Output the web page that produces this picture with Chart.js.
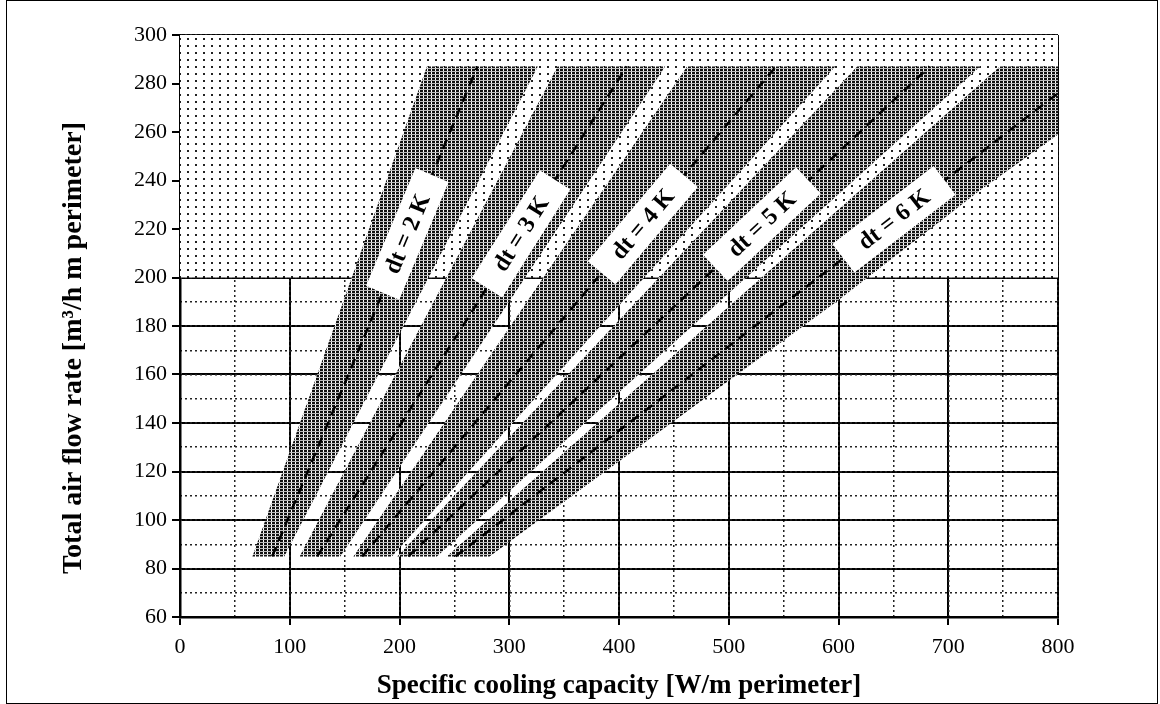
<!DOCTYPE html>
<html>
<head>
<meta charset="utf-8">
<script src="https://cdn.jsdelivr.net/npm/chart.js@4.4.1/dist/chart.umd.min.js"></script>
<style>
  body { margin:0; background:#fff; }
  #wrap { position:relative; width:1160px; height:704px; }
</style>
</head>
<body>
<div id="wrap"><canvas id="chart" width="1160" height="704"></canvas></div>
<script>
// axis ticks
const xTicks = [0, 100, 200, 300, 400, 500, 600, 700, 800];
const yTicks = [60, 80, 100, 120, 140, 160, 180, 200, 220, 240, 260, 280, 300];
const xTitle = 'Specific cooling capacity [W/m perimeter]';
const yTitle = 'Total air flow rate [m³/h m perimeter]';

// temperature difference lines (cooling capacity Q vs air flow V)
const dtNames = ['dt = 2 K', 'dt = 3 K', 'dt = 4 K', 'dt = 5 K', 'dt = 6 K'];
const lineVStart = 85;
const lineQStart = [84, 125, 166, 208, 251];
const lineQEnd = [271, 407, 543, 683, 800];
const lineVEnd = [287, 287, 287, 287, 276];
const labelV = [218, 218, 222, 222, 224];

// shaded bands around each line (bottom at V=85, top at V=287)
const bandVLow = 85;
const bandVHigh = 287;
const bandLowFrom = [66, 109, 158, 198, 243];
const bandLowTo = [95, 146, 193, 234, 282];
const bandHighFrom = [225, 344, 462, 617, 747];
const bandHighTo = [326, 442, 597, 729, 800];
// lower right boundary of the dt = 6 K band
const edgeQ = [598, 729, 800];
const edgeV = [190, 236, 259];

// stippled upper zone
const zoneVLow = 200;
const zoneVHigh = 300;

const FONT = '"Liberation Serif", "Times New Roman", serif';

function makePattern(w, h, draw){
  const c = document.createElement('canvas');
  c.width = w; c.height = h;
  const g = c.getContext('2d');
  g.fillStyle = '#fff'; g.fillRect(0, 0, w, h);
  draw(g);
  return document.getElementById('chart').getContext('2d').createPattern(c, 'repeat');
}
const bandFill = makePattern(4, 3, g => {
  g.fillStyle = '#111'; g.fillRect(0, 0, 3, 2);
  g.fillStyle = '#bbb'; g.fillRect(0, 2, 4, 1);
});
const dotFill = makePattern(8, 7, g => { g.fillStyle = '#222'; g.fillRect(3, 3, 2, 2); });

const datasets = [];

datasets.push({
  data: [
    {x: xTicks[0], y: zoneVLow}, {x: xTicks[xTicks.length-1], y: zoneVLow},
    {x: xTicks[xTicks.length-1], y: zoneVHigh}, {x: xTicks[0], y: zoneVHigh}
  ],
  fill: 'shape', backgroundColor: dotFill, borderWidth: 0, pointRadius: 0, order: 30
});

bandLowFrom.forEach((q, i) => {
  let pts;
  if (i < bandLowFrom.length - 1) {
    pts = [
      {x: q, y: bandVLow}, {x: bandLowTo[i], y: bandVLow},
      {x: bandHighTo[i], y: bandVHigh}, {x: bandHighFrom[i], y: bandVHigh}
    ];
  } else {
    pts = [{x: q, y: bandVLow}, {x: bandLowTo[i], y: bandVLow}];
    edgeQ.forEach((eq, k) => pts.push({x: eq, y: edgeV[k]}));
    pts.push({x: bandHighTo[i], y: bandVHigh}, {x: bandHighFrom[i], y: bandVHigh});
  }
  datasets.push({
    data: pts, fill: 'shape', backgroundColor: bandFill,
    borderWidth: 0, pointRadius: 0, order: 20
  });
});

lineQStart.forEach((q, i) => {
  datasets.push({
    data: [{x: q, y: lineVStart}, {x: lineQEnd[i], y: lineVEnd[i]}],
    borderColor: '#000', borderWidth: 2.5, borderDash: [10, 7],
    fill: false, pointRadius: 0, order: 10
  });
});

const labelPlugin = {
  id: 'dtLabels',
  afterDraw(chart){
    const {ctx} = chart;
    const xs = chart.scales.x, ys = chart.scales.y;
    ctx.save();
    dtNames.forEach((txt, i) => {
      const ax = xs.getPixelForValue(lineQStart[i]), ay = ys.getPixelForValue(lineVStart);
      const bx = xs.getPixelForValue(lineQEnd[i]), by = ys.getPixelForValue(lineVEnd[i]);
      const py = ys.getPixelForValue(labelV[i]);
      const px = ax + (bx - ax) * (py - ay) / (by - ay);
      const ang = Math.atan2(by - ay, bx - ax);
      ctx.translate(px, py);
      ctx.rotate(ang);
      ctx.font = 'bold 24px ' + FONT;
      const w = ctx.measureText(txt).width + 44;
      ctx.fillStyle = '#fff';
      ctx.fillRect(-w/2, -18, w, 36);
      ctx.fillStyle = '#000';
      ctx.textAlign = 'center';
      ctx.textBaseline = 'middle';
      ctx.fillText(txt, 0, 1);
      ctx.setTransform(1, 0, 0, 1, 0, 0);
    });
    // y axis title, set a bit lower than the plot centre as in the original
    ctx.translate(74, 348);
    ctx.rotate(-Math.PI / 2);
    ctx.font = 'bold 28px ' + FONT;
    ctx.fillStyle = '#000';
    ctx.textAlign = 'center';
    ctx.textBaseline = 'middle';
    ctx.fillText(yTitle, 0, 0);
    ctx.setTransform(1, 0, 0, 1, 0, 0);
    // outer frame
    ctx.strokeStyle = '#000';
    ctx.lineWidth = 1;
    ctx.strokeRect(6.5, 0.5, 1151, 703);
    ctx.restore();
  }
};

new Chart(document.getElementById('chart'), {
  type: 'line',
  data: { datasets },
  options: {
    responsive: false,
    animation: false,
    devicePixelRatio: 1,
    layout: { padding: { left: 0, top: 35, right: 102, bottom: 0 } },
    elements: { line: { tension: 0 } },
    plugins: { legend: { display: false }, tooltip: { enabled: false } },
    scales: {
      x: {
        type: 'linear', min: 0, max: 800, z: 1,
        afterBuildTicks: s => { s.ticks = xTicks.map(v => ({value: v})); },
        afterFit: s => { s.height = 87; },
        ticks: { color: '#000', font: { family: FONT, size: 22 }, padding: 9, maxRotation: 0 },
        grid: { color: '#000', lineWidth: 2, tickLength: 8, tickColor: '#000', tickWidth: 2 },
        border: { display: true, color: '#000', width: 2.5 },
        title: { display: true, text: xTitle, color: '#000',
                 font: { family: FONT, size: 27, weight: 'bold' }, padding: { top: 0, bottom: 2 } }
      },
      x2: {
        type: 'linear', min: 0, max: 800, position: 'bottom', z: 1,
        afterFit: s => { s.height = 0; },
        ticks: { display: false, stepSize: 50 },
        grid: { color: '#222', lineWidth: 1.5, drawTicks: false },
        border: { display: false, dash: [2, 3] }
      },
      y: {
        type: 'linear', min: 60, max: 300, z: 1,
        afterBuildTicks: s => { s.ticks = yTicks.map(v => ({value: v})); },
        afterFit: s => { s.width = 180; },
        ticks: { color: '#000', font: { family: FONT, size: 22 }, padding: 5 },
        grid: { color: '#000', lineWidth: 2, tickLength: 8, tickColor: '#000', tickWidth: 2 },
        border: { display: true, color: '#000', width: 2.5 },
        title: { display: false }
      },
      y2: {
        type: 'linear', min: 60, max: 300, position: 'left', z: 1,
        afterFit: s => { s.width = 0; },
        ticks: { display: false, stepSize: 10 },
        grid: { color: '#222', lineWidth: 1.5, drawTicks: false },
        border: { display: false, dash: [2, 3] }
      }
    }
  },
  plugins: [labelPlugin]
});
</script>
</body>
</html>
